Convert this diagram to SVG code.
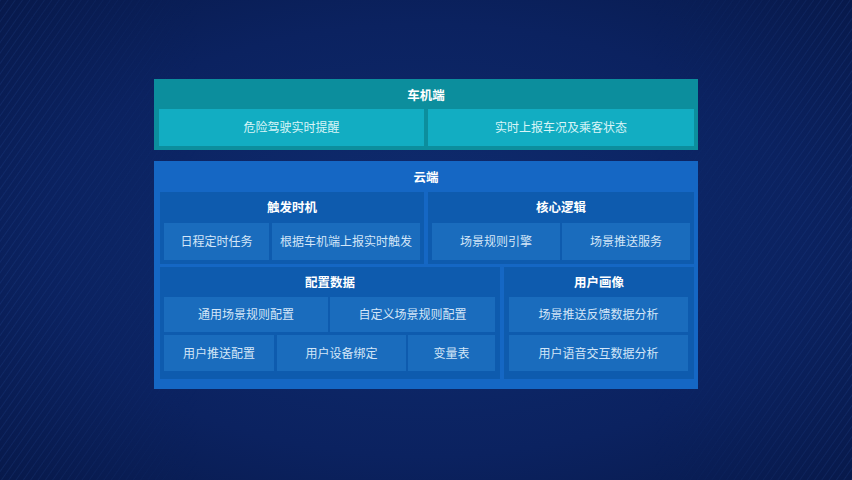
<svg xmlns="http://www.w3.org/2000/svg" width="852" height="480" viewBox="0 0 852 480">
  <defs>
    <radialGradient id="bg" cx="0.5" cy="0.5" r="0.75">
      <stop offset="0" stop-color="#0f2d70"/>
      <stop offset="0.6" stop-color="#0b2260"/>
      <stop offset="1" stop-color="#071848"/>
    </radialGradient>
    <pattern id="stripes" width="6" height="6" patternUnits="userSpaceOnUse" patternTransform="rotate(35)">
      <rect width="1" height="6" fill="#3a64b8" opacity="0.18"/>
    </pattern>
    <linearGradient id="fadeL" x1="0" y1="0" x2="1" y2="0">
      <stop offset="0" stop-color="#fff" stop-opacity="0.9"/>
      <stop offset="1" stop-color="#fff" stop-opacity="0"/>
    </linearGradient>
    <mask id="sideMask">
      <rect x="0" y="0" width="200" height="480" fill="url(#fadeL)"/>
      <rect x="652" y="0" width="200" height="480" fill="url(#fadeL)" transform="translate(1504 0) scale(-1 1)"/>
    </mask>
    <style>
      text { font-family: "Noto Sans CJK SC", "Noto Sans", sans-serif; text-anchor: middle; }
      .hdr { font-size: 12.5px; font-weight: bold; fill: #ffffff; }
      .car-panel { fill: #0c8e9d; }
      .car-item { fill: #12adc2; }
      .car-txt { font-size: 12px; fill: #d9f5f8; }
      .cloud-panel { fill: #1567c4; }
      .grp { fill: #0e5bae; }
      .item { fill: #1a6cbd; }
      .txt { font-size: 12px; fill: #d3e6f8; }
    </style>
  </defs>

  <rect width="852" height="480" fill="url(#bg)"/>
  <rect width="852" height="480" fill="url(#stripes)" mask="url(#sideMask)"/>

  <!-- 车机端 -->
  <g id="car">
    <rect class="car-panel" x="154" y="79" width="544" height="71"/>
    <text class="hdr" x="426" y="100">车机端</text>
  </g>
  <g id="car-danger">
    <rect class="car-item" x="159" y="109" width="265" height="37"/>
    <text class="car-txt" x="291.5" y="132">危险驾驶实时提醒</text>
  </g>
  <g id="car-report">
    <rect class="car-item" x="428" y="109" width="266" height="37"/>
    <text class="car-txt" x="561" y="132">实时上报车况及乘客状态</text>
  </g>

  <!-- 云端 -->
  <g id="cloud">
    <rect class="cloud-panel" x="154" y="161" width="544" height="228"/>
    <text class="hdr" x="426" y="182">云端</text>
  </g>

  <g id="trigger">
    <rect class="grp" x="160" y="192" width="264" height="72"/>
    <text class="hdr" x="292" y="212">触发时机</text>
  </g>
  <g id="trigger-schedule">
    <rect class="item" x="164" y="223" width="105" height="37"/>
    <text class="txt" x="216.5" y="246">日程定时任务</text>
  </g>
  <g id="trigger-report">
    <rect class="item" x="272" y="223" width="148" height="37"/>
    <text class="txt" x="346" y="246">根据车机端上报实时触发</text>
  </g>

  <g id="core">
    <rect class="grp" x="428" y="192" width="266" height="72"/>
    <text class="hdr" x="561" y="212">核心逻辑</text>
  </g>
  <g id="core-engine">
    <rect class="item" x="432" y="223" width="128" height="37"/>
    <text class="txt" x="496" y="246">场景规则引擎</text>
  </g>
  <g id="core-push">
    <rect class="item" x="562" y="223" width="128" height="37"/>
    <text class="txt" x="626" y="246">场景推送服务</text>
  </g>

  <g id="config">
    <rect class="grp" x="160" y="267" width="340" height="112"/>
    <text class="hdr" x="330" y="287">配置数据</text>
  </g>
  <g id="config-general">
    <rect class="item" x="164" y="297" width="164" height="35"/>
    <text class="txt" x="246" y="319">通用场景规则配置</text>
  </g>
  <g id="config-custom">
    <rect class="item" x="330" y="297" width="165" height="35"/>
    <text class="txt" x="412.5" y="319">自定义场景规则配置</text>
  </g>
  <g id="config-push">
    <rect class="item" x="164" y="335" width="110" height="36"/>
    <text class="txt" x="219" y="357.5">用户推送配置</text>
  </g>
  <g id="config-device">
    <rect class="item" x="277" y="335" width="129" height="36"/>
    <text class="txt" x="341.5" y="357.5">用户设备绑定</text>
  </g>
  <g id="config-vars">
    <rect class="item" x="408" y="335" width="87" height="36"/>
    <text class="txt" x="451.5" y="357.5">变量表</text>
  </g>

  <g id="profile">
    <rect class="grp" x="504" y="267" width="190" height="112"/>
    <text class="hdr" x="599" y="287">用户画像</text>
  </g>
  <g id="profile-feedback">
    <rect class="item" x="509" y="297" width="179" height="35"/>
    <text class="txt" x="598.5" y="319">场景推送反馈数据分析</text>
  </g>
  <g id="profile-voice">
    <rect class="item" x="509" y="335" width="179" height="36"/>
    <text class="txt" x="598.5" y="357.5">用户语音交互数据分析</text>
  </g>

  <g id="connectors"></g>
</svg>
